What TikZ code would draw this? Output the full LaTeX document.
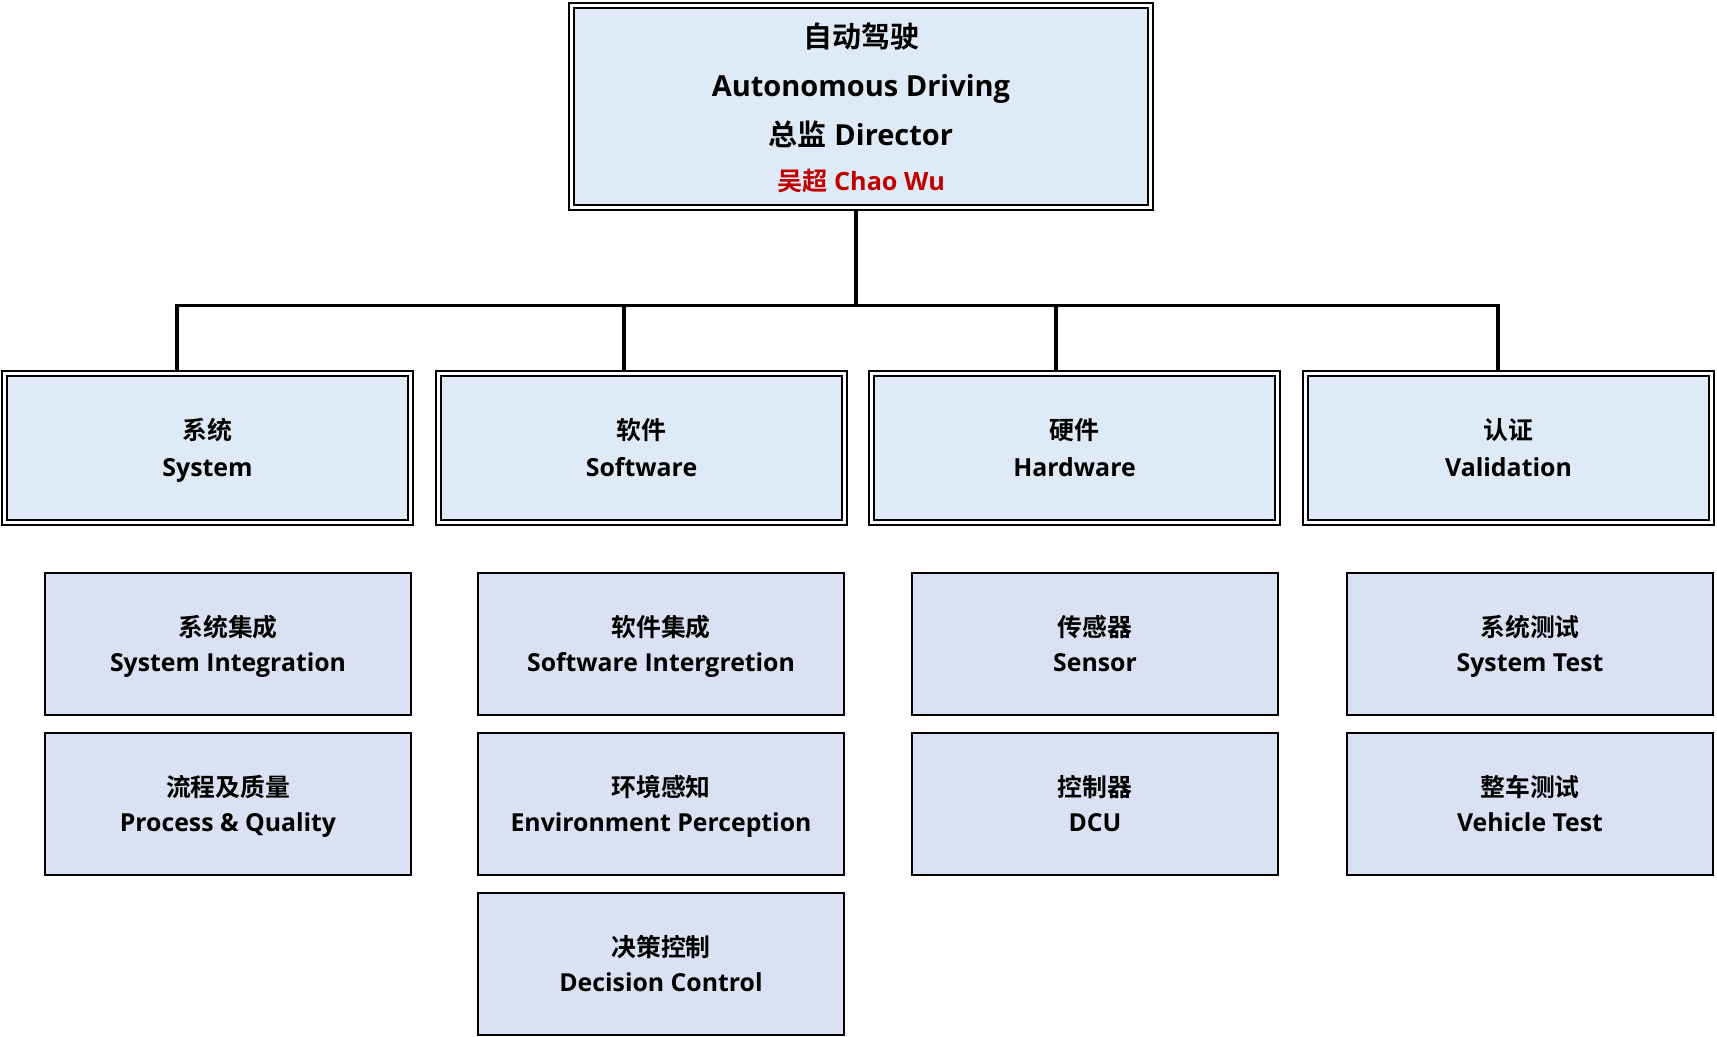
\documentclass[tikz,border=0pt]{standalone}
\usepackage{fontspec}
\setmainfont{Open Sans}
\newfontfamily\cjk{Noto Sans CJK SC}[BoldFont={Noto Sans CJK SC Bold}]
\definecolor{deptfill}{HTML}{DEEBF7}
\definecolor{subfill}{HTML}{D9E1F2}
\definecolor{redname}{HTML}{C00000}
\begin{document}
\begin{tikzpicture}[x=0.5pt,y=-0.5pt,
  dblbox/.style={rectangle, draw=black, line width=1pt, double=white, double distance=1.5pt,
    fill=deptfill, inner sep=0pt, outer sep=1.75pt, align=center},
  topbox/.style={dblbox, minimum width=289.5pt, minimum height=101pt, text depth=-1.3pt,
    font=\bfseries\fontsize{14.5pt}{24.5pt}\selectfont},
  deptbox/.style={dblbox, minimum width=203pt, minimum height=74.5pt, text depth=0.7pt,
    font=\bfseries\fontsize{12.45pt}{18.5pt}\selectfont},
  subbox/.style={rectangle, draw=black, line width=1pt, fill=subfill, inner sep=0pt,
    minimum width=183pt, minimum height=71pt, align=center, text depth=0.7pt,
    font=\bfseries\fontsize{12.4pt}{17.5pt}\selectfont},
  conn/.style={draw=black, line width=1.75pt, line join=miter}]
\useasboundingbox (0,0) rectangle (1717,1037);

\node[topbox] (top) at (861,106.5) {{\cjk 自动驾驶}\\Autonomous Driving\\{\cjk 总监} Director\\[-2pt]{\color{redname}\fontsize{12.6pt}{24.5pt}\selectfont{\cjk 吴超} Chao Wu}};

\node[deptbox] (sys) at (207.5,448) {{\cjk 系统}\\System};
\node[deptbox] (sw)  at (641.5,448) {{\cjk 软件}\\Software};
\node[deptbox] (hw)  at (1074.5,448) {{\cjk 硬件}\\Hardware};
\node[deptbox] (val) at (1508.5,448) {{\cjk 认证}\\Validation};

\node[subbox] (s1) at (228,644) {{\cjk 系统集成}\\System Integration};
\node[subbox] (s2) at (228,804) {{\cjk 流程及质量}\\Process \& Quality};
\node[subbox] (w1) at (661,644) {{\cjk 软件集成}\\Software Intergretion};
\node[subbox] (w2) at (661,804) {{\cjk 环境感知}\\Environment Perception};
\node[subbox] (w3) at (661,964) {{\cjk 决策控制}\\Decision Control};
\node[subbox] (h1) at (1095,644) {{\cjk 传感器}\\Sensor};
\node[subbox] (h2) at (1095,804) {{\cjk 控制器}\\DCU};
\node[subbox] (v1) at (1530,644) {{\cjk 系统测试}\\System Test};
\node[subbox] (v2) at (1530,804) {{\cjk 整车测试}\\Vehicle Test};

\coordinate (j0) at (856,305.5);
\coordinate (j1) at (177,305.5);
\coordinate (j2) at (624,305.5);
\coordinate (j3) at (1056,305.5);
\coordinate (j4) at (1498,305.5);

\draw[conn] (top.south -| j0) -- (j0);
\draw[conn] (j1 |- sys.north) -- (j1) -- (j4) -- (j4 |- val.north);
\draw[conn] (j2) -- (j2 |- sw.north);
\draw[conn] (j3) -- (j3 |- hw.north);
\end{tikzpicture}
\end{document}
